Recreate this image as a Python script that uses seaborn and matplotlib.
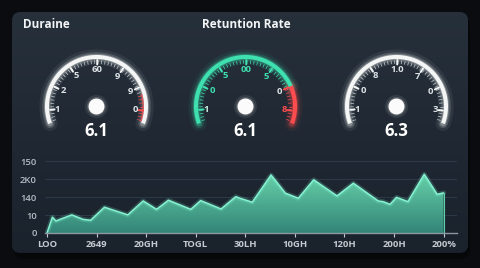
import numpy as np
import pandas as pd
import matplotlib
matplotlib.use("Agg")
import matplotlib.pyplot as plt
import seaborn as sns
from matplotlib.patches import FancyBboxPatch, Circle, PathPatch

sns.set_theme(style="dark")
plt.rcParams["font.family"] = ["Open Sans", "DejaVu Sans"]

# ---------------- data ----------------
panel_titles = ["Duraine", "Retuntion Rate"]
gauge_values = ["6.1", "6.1", "6.3"]
gauge_labels = [
    ["1", "2", "5", "60", "9", "9", "0"],
    ["1", "0", "5", "00", "5", "0", "8"],
    ["1", "0", "8", "1.0", "7", "0", "3"],
]
x_labels = ["LOO", "2649", "20GH", "TOGL", "30LH", "10GH", "120H", "200H", "200%"]
y_labels = ["0", "10", "140", "2K0", "150"]
trend_x = [0.0, 0.11, 0.18, 0.50, 0.73, 0.88, 1.16, 1.63, 1.94, 2.21, 2.45, 2.90,
           3.10, 3.51, 3.81, 3.89, 4.14, 4.52, 4.81, 5.07, 5.38, 5.85, 6.18, 6.68,
           6.78, 6.92, 7.05, 7.28, 7.61, 7.87, 8.0]
trend_y = [0.0, 0.88, 0.67, 1.01, 0.76, 0.71, 1.44, 1.01, 1.79, 1.32, 1.83, 1.32,
           1.81, 1.34, 2.03, 1.94, 1.72, 3.24, 2.22, 1.94, 2.97, 2.07, 2.78, 1.79,
           1.75, 1.60, 1.99, 1.75, 3.28, 2.16, 2.24]

df = pd.DataFrame({"x": trend_x, "y": trend_y})

# ---------------- figure ----------------
W, H = 480, 268
fig = plt.figure(figsize=(W / 100, H / 100), dpi=100, facecolor="#0b0c0f")
ax0 = fig.add_axes([0, 0, 1, 1])
ax0.set_xlim(0, W)
ax0.set_ylim(H, 0)
ax0.axis("off")
ax0.set_facecolor("none")

# panel shadow + panel with vertical gradient
shadow = FancyBboxPatch((14, 16), 456, 243, boxstyle="round,pad=0,rounding_size=10",
                        facecolor="#050607", edgecolor="none", alpha=0.8, zorder=0)
ax0.add_patch(shadow)
panel = FancyBboxPatch((12, 12), 456, 241, boxstyle="round,pad=0,rounding_size=9",
                       facecolor="#1e2833", edgecolor="none", zorder=1)
ax0.add_patch(panel)
grad = np.linspace(0, 1, 256).reshape(-1, 1)
c_top = np.array([0.150, 0.188, 0.231])
c_bot = np.array([0.102, 0.133, 0.173])
img = c_top[None, None, :] * (1 - grad[:, :, None]) + c_bot[None, None, :] * grad[:, :, None]
im = ax0.imshow(img, extent=[12, 468, 253, 12], aspect="auto", zorder=1.5,
                interpolation="bicubic")
im.set_clip_path(panel)
ax0.set_xlim(0, W)
ax0.set_ylim(H, 0)

# titles
ax0.text(23, 24, panel_titles[0], color="#f2f4f6", fontsize=8.5, fontweight="bold",
         ha="left", va="center", zorder=5)
ax0.text(246, 24, panel_titles[1], color="#f2f4f6", fontsize=8.5, fontweight="bold",
         ha="center", va="center", zorder=5)

# ---------------- gauges ----------------
centers = [96.5, 245.5, 396.5]
cy = 106.5
R = 49.5
label_angles = [184, 155, 124, 89, 55, 24, -5]
WHITE = "#f4f6f6"
GREEN = "#3fe0b0"
RED = "#ff4d4f"


def pt(cx, r, ang):
    a = np.deg2rad(ang)
    return cx + r * np.cos(a), cy - r * np.sin(a)


def arc(cx, a0, a1, color, lw=2.9, glow=True):
    angs = np.linspace(a0, a1, 120)
    xs, ys = pt(cx, R, angs)
    if glow:
        ax0.plot(xs, ys, color=color, lw=lw + 8, alpha=0.07, solid_capstyle="round", zorder=3)
        ax0.plot(xs, ys, color=color, lw=lw + 4, alpha=0.16, solid_capstyle="round", zorder=3)
        ax0.plot(xs, ys, color=color, lw=lw + 1.5, alpha=0.3, solid_capstyle="round", zorder=3)
    ax0.plot(xs, ys, color=color, lw=lw, solid_capstyle="butt", zorder=4)


for gi, cx in enumerate(centers):
    if gi == 1:
        arc(cx, 200, 24, GREEN)
        arc(cx, 24, -20, RED)
    else:
        arc(cx, 200, -20, WHITE)
    if gi == 0:
        angs = np.linspace(15, -18, 30)
        xs, ys = pt(cx, R - 2.8, angs)
        ax0.plot(xs, ys, color=RED, lw=1.0, alpha=0.7, zorder=4)

    # minor ticks
    for ang in np.arange(198, -19, -4.4):
        col = "#c9d1d5"
        if gi == 0 and ang < 16:
            col = RED
        if gi == 1:
            col = GREEN if ang > 24 else RED
        x1, y1 = pt(cx, R - 3.5, ang)
        x2, y2 = pt(cx, R - 6.5, ang)
        ax0.plot([x1, x2], [y1, y2], color=col, lw=0.6, alpha=0.85, zorder=4)
    # major ticks + labels
    for li, (ang, lab) in enumerate(zip(label_angles, gauge_labels[gi])):
        x1, y1 = pt(cx, R - 3.0, ang)
        x2, y2 = pt(cx, R - 7.5, ang)
        tcol = WHITE
        lcol = "#dde3e6"
        if gi == 1:
            tcol = GREEN if ang > 24 else RED
            lcol = ["#c8eee0", GREEN, GREEN, GREEN, GREEN, "#dde3e6", RED][li]
        if gi == 0 and ang < 0:
            tcol = RED
        ax0.plot([x1, x2], [y1, y2], color=tcol, lw=1.4, zorder=4)
        r_lab = 39 if li in (0, 6) else 37
        lx, ly = pt(cx, r_lab, ang)
        ax0.text(lx, ly, lab, color=lcol, fontsize=6.8, fontweight="bold",
                 ha="center", va="center", zorder=5)

    # central dot
    ax0.add_patch(Circle((cx, cy), 11, facecolor="white", alpha=0.06, zorder=4))
    ax0.add_patch(Circle((cx, cy), 9, facecolor="white", alpha=0.12, zorder=4))
    ax0.add_patch(Circle((cx, cy), 7.3, facecolor="#fbfbfb", zorder=5))
    ax0.text(cx, 131, gauge_values[gi], color="white", fontsize=12, fontweight="bold",
             ha="center", va="center", zorder=5)

# ---------------- area chart ----------------
ax = fig.add_axes([45 / W, 35 / H, 412 / W, 77 / H])
ax.set_facecolor("none")
ax.set_xlim(-0.04, 8.27)
ax.set_ylim(0, 4.3)

fill = ax.fill_between(df["x"], df["y"], 0, color="#4fc6a2", alpha=0.0, lw=0)
verts = fill.get_paths()[0]
gy = np.linspace(0, 1, 256).reshape(-1, 1)
top_c = np.array([0.40, 0.82, 0.66])
bot_c = np.array([0.20, 0.52, 0.47])
gimg = top_c[None, None, :] * gy[:, :, None] + bot_c[None, None, :] * (1 - gy[:, :, None])
gim = ax.imshow(gimg, extent=[0, 8, 0, 3.35], origin="lower", aspect="auto", zorder=2)
pp = PathPatch(verts, transform=ax.transData, facecolor="none", edgecolor="none")
ax.add_patch(pp)
gim.set_clip_path(pp)
ax.set_xlim(-0.04, 8.27)
ax.set_ylim(0, 4.3)

sns.lineplot(data=df, x="x", y="y", ax=ax, color="#7ff5d2", lw=3.5, alpha=0.2, zorder=3)
sns.lineplot(data=df, x="x", y="y", ax=ax, color="#86f3d2", lw=1.1, zorder=4)
ax.plot([8.0, 8.0], [0, trend_y[-1]], color="#5fd0ae", lw=0.8, zorder=4)

ax.set_yticks(range(len(y_labels)))
ax.set_yticklabels(y_labels)
ax.set_xticks(range(len(x_labels)))
ax.set_xticklabels(x_labels)
ax.set_xlabel("")
ax.set_ylabel("")
ax.grid(axis="y", color="#2c3846", lw=0.8)
ax.grid(axis="x", visible=False)
ax.set_axisbelow(True)
for s in ["top", "right", "left"]:
    ax.spines[s].set_visible(False)
ax.spines["bottom"].set_color("#8c97a2")
ax.spines["bottom"].set_linewidth(1.0)
ax.spines["bottom"].set_zorder(5)
ax.tick_params(axis="x", colors="#c3cad1", labelsize=6.8, length=3, width=0.8,
               direction="out", pad=2, bottom=True)
ax.tick_params(axis="y", colors="#b4bcc4", labelsize=6.8, length=0, pad=6)
for t in ax.get_xticklabels():
    t.set_fontweight("bold")
for t in ax.get_yticklabels():
    t.set_fontweight("semibold")

fig.savefig("out.png", dpi=100, facecolor=fig.get_facecolor())
